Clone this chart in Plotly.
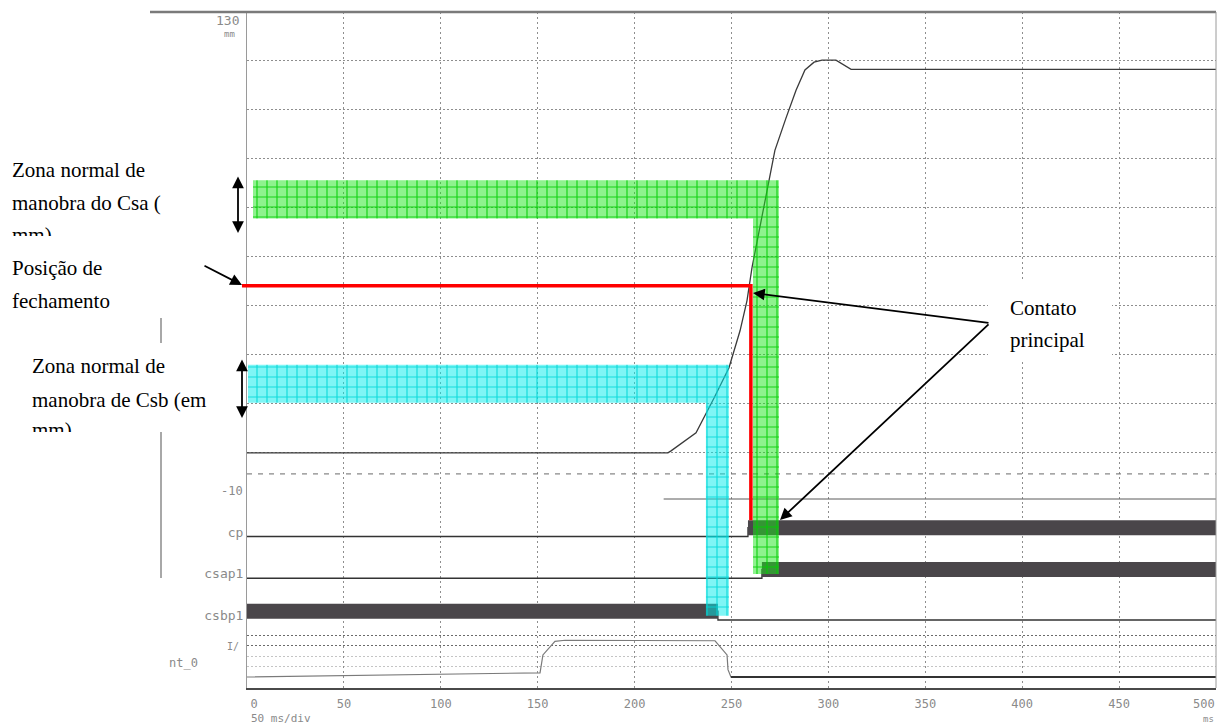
import plotly.graph_objects as go

W, H = 1220, 726

# ---------------- data ----------------
# travel (curso) of the moving contact, mm, versus time, ms
travel_t_ms = [0, 217.2, 218.8, 231.7, 241.0, 248.7, 254.4, 258.0, 260.6, 267.3,
               272.4, 278.1, 283.3, 287.9, 292.6, 296.7, 303.9, 311.7, 330.0, 500.0]
travel_mm = [0.0, 0.0, 0.6, 5.9, 16.2, 25.1, 36.0, 44.9, 54.7, 74.4,
             89.2, 98.7, 106.9, 112.9, 115.2, 115.8, 115.8, 113.1, 113.1, 113.1]
travel_ref_dashed_mm = -6.2
travel_ref_solid_mm = -13.6
travel_ref_solid_from_ms = 215.0

# digital channels (0 = open, 1 = closed)
channel_names = ["cp", "csap1", "csbp1"]
channel_rows = [2, 1, 0]
cp_t_ms = [0, 258.5, 500]
cp_state = [0, 1, 1]
csap1_t_ms = [0, 265.7, 500]
csap1_state = [0, 1, 1]
csbp1_t_ms = [0, 243.0, 500]
csbp1_state = [1, 0, 0]

# analog channel nt_0 (divisions)
coil_t_ms = [0, 151.2, 152.7, 158.9, 164.1, 241.5, 247.7, 248.2, 249.7, 500]
coil_div = [0, 0.4, 2.1, 3.4, 3.5, 3.45, 2.1, 0.7, 0, 0]

x_tick_values = [0, 50, 100, 150, 200, 250, 300, 350, 400, 450, 500]
x_tick_labels = ["0", "50", "100", "150", "200", "250", "300", "350", "400", "450", "500"]

# hand-drawn annotation zones
csa_zone_mm = [69.1, 80.4]
csa_zone_ms = [3.1, 267.3]
csa_window_ms = [261.1, 274.5]
csa_window_bottom_row = 1.1
csb_zone_mm = [14.8, 26.0]
csb_zone_ms = [0.5, 248.7]
csb_window_ms = [236.8, 248.7]
csb_window_bottom_row = 0.1
closing_position_mm = 49.3
closing_time_ms = 260.0
closing_line_from_ms = -2.6

# ---------------- layout geometry ----------------
X0, X1 = 247, 1216
TOP, BOT = 12, 688
T_BOT, D_BOT = 506, 626
HIGH = 0.21
BAR_W = 15
travel_range = [-15.66, 130]
dig_range = [-0.144, 2.730]
ana_range = [-1.048, 4.857]
px_per_ms = (X1 - X0) / 500.0
x4_lo = -(X0 - 232) / px_per_ms


def lin(v, r, p_bot, p_top):
    return p_bot - (v - r[0]) / (r[1] - r[0]) * (p_bot - p_top)


def mm_px(v):
    return lin(v, travel_range, T_BOT, TOP)


def dig_px(v):
    return lin(v, dig_range, D_BOT, T_BOT)


def PX(p):
    return p / W


def PY(p):
    return 1 - p / H


fig = go.Figure()
common = dict(hoverinfo="skip", showlegend=False)

# travel panel
fig.add_trace(go.Scatter(x=[0, 500], y=[travel_ref_dashed_mm] * 2, mode="lines",
                         line=dict(color="#6a6a6a", width=1, dash="5px,6px"),
                         xaxis="x", yaxis="y", **common))
fig.add_trace(go.Scatter(x=[travel_ref_solid_from_ms, 500], y=[travel_ref_solid_mm] * 2, mode="lines",
                         line=dict(color="#5a5a5a", width=1), xaxis="x", yaxis="y", **common))
fig.add_trace(go.Scatter(x=travel_t_ms, y=travel_mm, mode="lines",
                         line=dict(color="#3a3a3a", width=1.3), xaxis="x", yaxis="y", **common))

# digital panel
channels = [(cp_t_ms, cp_state), (csap1_t_ms, csap1_state), (csbp1_t_ms, csbp1_state)]
for (t, s), row in zip(channels, channel_rows):
    fig.add_trace(go.Scatter(x=t, y=[row + HIGH * v for v in s], mode="lines", line_shape="hv",
                             line=dict(color="#333333", width=1.3), xaxis="x", yaxis="y2", **common))
for (t, s), row in zip(channels, channel_rows):
    for i in range(len(t) - 1):
        if s[i] == 1 and (i == 0 or s[i - 1] == 0):
            j = i
            while j + 1 < len(t) - 1 and s[j + 1] == 1:
                j += 1
            fig.add_trace(go.Scatter(x=[t[i], t[j + 1]], y=[row + HIGH] * 2, mode="lines",
                                     line=dict(color="rgb(74,70,74)", width=BAR_W),
                                     xaxis="x", yaxis="y2", **common))

# analog panel
fig.add_trace(go.Scatter(x=coil_t_ms, y=coil_div, mode="lines",
                         line=dict(color="#7a7a7a", width=1.2), xaxis="x", yaxis="y3", **common))
tail_t = [t for t, v in zip(coil_t_ms, coil_div) if t >= 249.7]
tail_v = [v for t, v in zip(coil_t_ms, coil_div) if t >= 249.7]
fig.add_trace(go.Scatter(x=tail_t, y=tail_v, mode="lines",
                         line=dict(color="#333333", width=2), xaxis="x", yaxis="y3", **common))

# overlay: hand-drawn zones
g_top, g_low, g_bot = mm_px(csa_zone_mm[1]), mm_px(csa_zone_mm[0]), dig_px(csa_window_bottom_row)
fig.add_trace(go.Scatter(
    x=[csa_zone_ms[0], csa_window_ms[1], csa_window_ms[1], csa_window_ms[0], csa_window_ms[0], csa_zone_ms[0], csa_zone_ms[0]],
    y=[g_top, g_top, g_bot, g_bot, g_low, g_low, g_top],
    mode="lines", fill="toself", line=dict(width=0), fillcolor="rgba(30,230,30,0.5)",
    fillpattern=dict(shape="+", size=10, solidity=0.22, fgcolor="rgb(0,205,0)", fgopacity=0.85,
                     bgcolor="rgba(30,230,30,0.5)"),
    xaxis="x4", yaxis="y4", **common))
c_top, c_low, c_bot = mm_px(csb_zone_mm[1]), mm_px(csb_zone_mm[0]), dig_px(csb_window_bottom_row)
fig.add_trace(go.Scatter(
    x=[csb_zone_ms[0], csb_window_ms[1], csb_window_ms[1], csb_window_ms[0], csb_window_ms[0], csb_zone_ms[0], csb_zone_ms[0]],
    y=[c_top, c_top, c_bot, c_bot, c_low, c_low, c_top],
    mode="lines", fill="toself", line=dict(width=0), fillcolor="rgba(0,235,235,0.5)",
    fillpattern=dict(shape="+", size=10, solidity=0.22, fgcolor="rgb(0,215,215)", fgopacity=0.85,
                     bgcolor="rgba(0,235,235,0.5)"),
    xaxis="x4", yaxis="y4", **common))
red_y = mm_px(closing_position_mm)
fig.add_trace(go.Scatter(
    x=[closing_line_from_ms, closing_time_ms, closing_time_ms],
    y=[red_y, red_y, dig_px(channel_rows[0] + HIGH) - BAR_W / 2],
    mode="lines", line=dict(color="#ff0000", width=3.5), xaxis="x4", yaxis="y4", **common))

# text boxes whose last line is clipped by the box border
serif = "Liberation Serif, Times New Roman, serif"
fig.add_trace(go.Scatter(x=[12, 12, 12], y=[171.75, 204.75, 236.75],
                         text=["Zona normal de", "manobra do Csa (", "mm)"],
                         mode="text", textposition="middle right", cliponaxis=True,
                         textfont=dict(family=serif, size=21, color="black"),
                         xaxis="x5", yaxis="y5", **common))
fig.add_trace(go.Scatter(x=[32, 32, 32], y=[367.75, 401.75, 431.75],
                         text=["Zona normal de", "manobra de Csb (em", "mm)"],
                         mode="text", textposition="middle right", cliponaxis=True,
                         textfont=dict(family=serif, size=21, color="black"),
                         xaxis="x5", yaxis="y6", **common))

mono = "DejaVu Sans Mono, monospace"
shown_labels = list(x_tick_labels)
shown_labels[0] = "\u00a0\u00a0" + shown_labels[0]
shown_labels[-1] = ""          # last label drawn right-aligned below, so it stays on the page
grid_col = "#8e8e8e"

fig.update_layout(
    width=W, height=H, autosize=False, template="none", showlegend=False,
    margin=dict(l=0, r=0, t=0, b=0, pad=0),
    paper_bgcolor="white", plot_bgcolor="rgba(0,0,0,0)",
    xaxis=dict(domain=[PX(X0), PX(X1)], range=[0, 500], anchor="y3", tickmode="array",
               tickvals=x_tick_values, ticktext=shown_labels, ticks="", showgrid=True,
               gridcolor=grid_col, griddash="2px,3px", gridwidth=1, zeroline=False,
               showline=True, linecolor="#4a4a4a", linewidth=2, ticklabelstandoff=4,
               tickfont=dict(family=mono, size=12, color="#8a8a8a")),
    yaxis=dict(domain=[PY(T_BOT), PY(TOP)], range=travel_range, anchor="x", tickmode="array",
               tickvals=[k * 130 / 9 for k in range(10)], showticklabels=False, ticks="",
               showgrid=True, gridcolor=grid_col, griddash="2px,2px", zeroline=False,
               showline=True, linecolor="#9a9a9a", linewidth=1),
    yaxis2=dict(domain=[PY(D_BOT), PY(T_BOT)], range=dig_range, anchor="x", tickmode="array",
                tickvals=[r + HIGH / 2 for r in channel_rows], ticktext=channel_names, ticks="",
                showgrid=False, zeroline=False, showline=True, linecolor="#9a9a9a", linewidth=1,
                tickfont=dict(family=mono, size=13, color="#8a8a8a")),
    yaxis3=dict(domain=[PY(BOT), PY(D_BOT)], range=ana_range, anchor="x", tickmode="array",
                tickvals=[3, 4], showticklabels=False, ticks="", showgrid=True, gridcolor="#6a6a6a",
                griddash="2px,2px", zeroline=False, showline=True, linecolor="#9a9a9a", linewidth=1,
                minor=dict(tickmode="array", tickvals=[1, 2], showgrid=True, gridcolor="#c4c4c4",
                           griddash="2px,2px", ticks="")),
    xaxis4=dict(domain=[PX(232), PX(X1)], range=[x4_lo, 500], anchor="y4", visible=False),
    yaxis4=dict(domain=[PY(BOT), PY(TOP)], range=[BOT, TOP], anchor="x4", visible=False),
    xaxis5=dict(domain=[0, PX(245)], range=[0, 245], anchor="y5", visible=False),
    yaxis5=dict(domain=[PY(236), PY(150)], range=[236, 150], anchor="x5", visible=False),
    yaxis6=dict(domain=[PY(432), PY(340)], range=[432, 340], anchor="x5", visible=False),
)

shapes = [
    dict(type="line", xref="paper", yref="paper", x0=PX(150), x1=PX(X1), y0=PY(TOP), y1=PY(TOP),
         line=dict(color="#7a7a7a", width=2.5), layer="above"),
    dict(type="line", xref="paper", yref="paper", x0=PX(X1), x1=PX(X1), y0=PY(TOP), y1=PY(BOT),
         line=dict(color="#9a9a9a", width=1), layer="above"),
    dict(type="line", xref="paper", yref="paper", x0=PX(161), x1=PX(161), y0=PY(318), y1=PY(343),
         line=dict(color="#a8a8a8", width=2)),
    dict(type="line", xref="paper", yref="paper", x0=PX(161), x1=PX(161), y0=PY(432), y1=PY(578),
         line=dict(color="#a8a8a8", width=2)),
    dict(type="rect", xref="paper", yref="paper", x0=PX(988), x1=PX(1112), y0=PY(362), y1=PY(280),
         fillcolor="white", line=dict(width=0), layer="above"),
]
fig.update_layout(shapes=shapes)

ann = []


def label(text, x, y, size, anchor="center", color="#8a8a8a", family=mono):
    ann.append(dict(text=text, x=PX(x), y=PY(y), xref="paper", yref="paper", showarrow=False,
                    xanchor=anchor, yanchor="middle", font=dict(family=family, size=size, color=color)))


label("130", 227, 20, 13)
label("mm", 230, 34, 9)
label("-10", 232, 491, 12)
label("I/", 233, 646, 10)
label("nt_0", 183, 663, 12)
label("50 ms/div", 249, 718, 11, anchor="left")
label(x_tick_labels[-1], 1217, 704, 12, anchor="right")
label("ms", 1208, 719, 9)

label("Posição de", 10, 268, 21, anchor="left", color="black", family=serif)
label("fechamento", 10, 301, 21, anchor="left", color="black", family=serif)
label("Contato", 1008, 308, 21, anchor="left", color="black", family=serif)
label("principal", 1008, 340, 21, anchor="left", color="black", family=serif)


def arrow(hx, hy, tx, ty, both=False):
    d = dict(text="", x=PX(hx), y=PY(hy), xref="paper", yref="paper", showarrow=True,
             ax=tx - hx, ay=ty - hy, axref="pixel", ayref="pixel", arrowhead=2, arrowsize=1.3,
             arrowwidth=1.8, arrowcolor="black", standoff=0, startstandoff=0)
    if both:
        d.update(arrowside="end+start", startarrowhead=2, startarrowsize=1.3)
    ann.append(d)


arrow(238, 233, 238, 175, both=True)
arrow(242, 418, 242, 358, both=True)
arrow(242, 285, 203, 265)
arrow(753, 293, 990, 323)
arrow(780, 520, 990, 323)

fig.update_layout(annotations=ann)
fig.write_html("out.html")
